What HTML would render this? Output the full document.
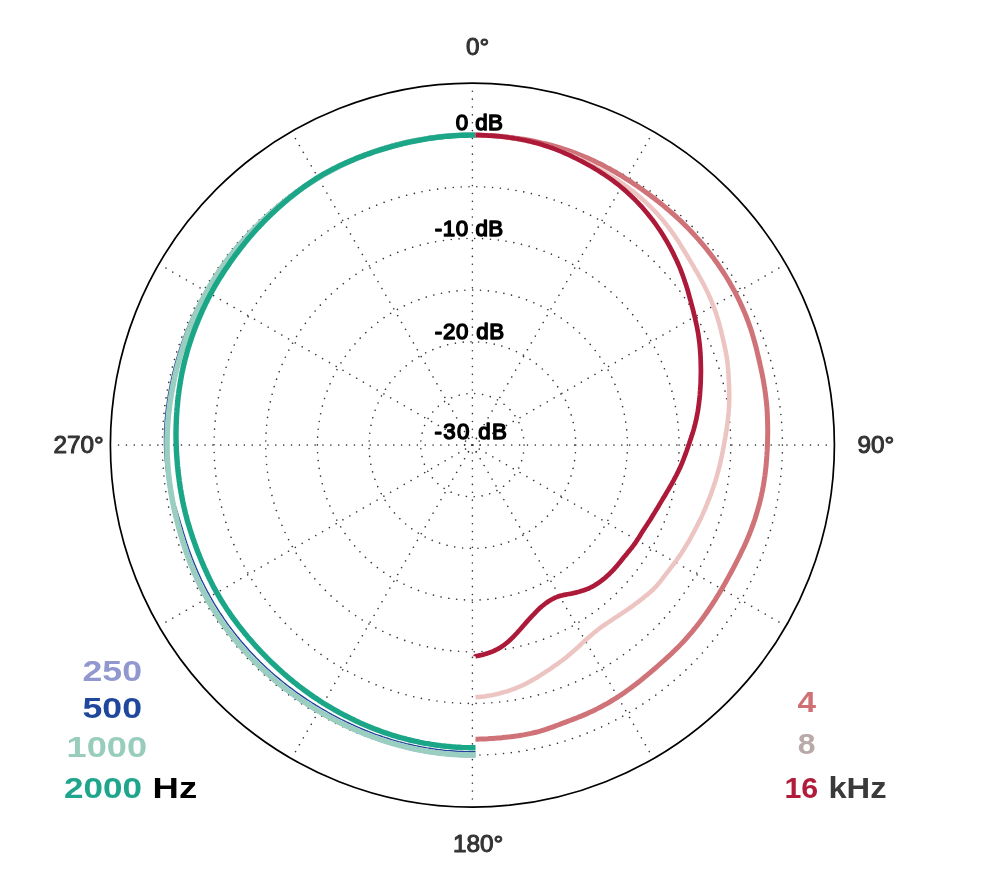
<!DOCTYPE html>
<html lang="en"><head><meta charset="utf-8"><title>Polar pattern</title>
<style>html,body{margin:0;padding:0;background:#fff}svg{display:block}text{font-family:"Liberation Sans",sans-serif}.g{fill:none;stroke:#363636;stroke-width:1.6;stroke-linecap:round;stroke-dasharray:0.01 7.853}.c{fill:none;stroke-linecap:butt;stroke-linejoin:round}.ang{font-size:23.4px;fill:#333;stroke:#333;stroke-width:1px;stroke-linejoin:round}.db{font-size:22.3px;fill:#000;stroke:#000;stroke-width:1.45px;stroke-linejoin:round}.lg{font-weight:bold;font-size:29.4px}</style></head><body>
<svg width="1000" height="889" viewBox="0 0 1000 889">
<rect width="1000" height="889" fill="#fff"/>
<g class="g">
<circle cx="472.4" cy="445.1" r="7.6" style="stroke-dasharray:0.01 7.96"/>
<circle cx="472.4" cy="445.1" r="51.67" style="stroke-dasharray:0.01 7.9083"/>
<circle cx="472.4" cy="445.1" r="103.34" style="stroke-dasharray:0.01 7.8129"/>
<circle cx="472.4" cy="445.1" r="155.01" style="stroke-dasharray:0.01 7.8445"/>
<circle cx="472.4" cy="445.1" r="206.68" style="stroke-dasharray:0.01 7.8604"/>
<circle cx="472.4" cy="445.1" r="258.35" style="stroke-dasharray:0.01 7.8699"/>
<circle cx="472.4" cy="445.1" r="310.02" style="stroke-dasharray:0.01 7.8445"/>
<line x1="472.4" y1="445.1" x2="472.40" y2="87.41"/>
<line x1="472.4" y1="445.1" x2="651.24" y2="135.33"/>
<line x1="472.4" y1="445.1" x2="782.17" y2="266.25"/>
<line x1="472.4" y1="445.1" x2="830.09" y2="445.10"/>
<line x1="472.4" y1="445.1" x2="782.17" y2="623.94"/>
<line x1="472.4" y1="445.1" x2="651.24" y2="754.87"/>
<line x1="472.4" y1="445.1" x2="472.40" y2="802.79"/>
<line x1="472.4" y1="445.1" x2="293.55" y2="754.87"/>
<line x1="472.4" y1="445.1" x2="162.63" y2="623.95"/>
<line x1="472.4" y1="445.1" x2="114.71" y2="445.10"/>
<line x1="472.4" y1="445.1" x2="162.63" y2="266.25"/>
<line x1="472.4" y1="445.1" x2="293.55" y2="135.33"/>
</g>
<circle cx="472.4" cy="445.1" r="362" fill="none" stroke="#000" stroke-width="1.7"/>
<g class="c">
<path d="M475.5,135.0 L469.7,135.0 L467.0,135.0 L464.3,135.1 L461.6,135.2 L458.9,135.3 L456.2,135.4 L453.5,135.6 L450.8,135.8 L448.1,136.0 L445.4,136.2 L442.7,136.5 L440.0,136.8 L437.3,137.1 L434.6,137.4 L431.9,137.8 L429.3,138.1 L426.6,138.5 L423.9,139.0 L421.2,139.4 L418.6,139.9 L415.9,140.4 L413.3,140.9 L410.6,141.5 L408.0,142.0 L405.3,142.6 L402.7,143.2 L400.1,143.9 L397.5,144.5 L394.8,145.2 L392.2,145.9 L389.6,146.7 L387.0,147.4 L384.5,148.2 L381.9,149.0 L379.3,149.9 L376.7,150.7 L374.2,151.6 L371.6,152.5 L369.1,153.4 L366.6,154.4 L364.1,155.3 L361.5,156.3 L359.0,157.3 L356.6,158.4 L354.1,159.4 L351.6,160.5 L349.1,161.6 L346.7,162.7 L344.2,163.9 L341.8,165.0 L339.4,166.2 L337.0,167.4 L334.6,168.7 L332.2,169.9 L329.8,171.2 L327.5,172.5 L325.1,173.8 L322.8,175.1 L320.4,176.5 L318.1,177.9 L315.8,179.3 L313.5,180.7 L311.2,182.1 L309.0,183.6 L306.7,185.1 L304.5,186.5 L302.3,188.1 L300.1,189.6 L297.9,191.1 L295.7,192.7 L293.5,194.3 L291.4,195.9 L289.2,197.5 L287.1,199.2 L285.0,200.8 L282.9,202.5 L280.8,204.2 L278.7,205.9 L276.7,207.7 L274.6,209.4 L272.6,211.2 L270.6,213.0 L268.6,214.7 L266.6,216.6 L264.7,218.4 L262.7,220.2 L260.8,222.1 L258.8,224.0 L256.9,225.8 L255.0,227.7 L253.2,229.6 L251.3,231.6 L249.4,233.5 L247.6,235.5 L245.8,237.4 L244.0,239.4 L242.2,241.4 L240.4,243.5 L238.7,245.5 L236.9,247.5 L235.2,249.6 L233.5,251.7 L231.9,253.8 L230.2,255.9 L228.6,258.0 L226.9,260.1 L225.3,262.3 L223.8,264.5 L222.2,266.6 L220.7,268.8 L219.2,271.1 L217.7,273.3 L216.2,275.5 L214.8,277.8 L213.3,280.1 L211.9,282.4 L210.6,284.7 L209.2,287.0 L207.9,289.3 L206.6,291.6 L205.3,294.0 L204.0,296.3 L202.8,298.7 L201.6,301.1 L200.4,303.5 L199.2,305.9 L198.0,308.3 L196.9,310.7 L195.8,313.2 L194.7,315.6 L193.6,318.1 L192.6,320.5 L191.6,323.0 L190.6,325.5 L189.6,328.0 L188.6,330.4 L187.7,332.9 L186.8,335.5 L185.9,338.0 L185.0,340.5 L184.1,343.0 L183.3,345.5 L182.5,348.1 L181.7,350.6 L180.9,353.2 L180.1,355.7 L179.4,358.3 L178.7,360.9 L178.0,363.4 L177.3,366.0 L176.6,368.6 L176.0,371.2 L175.4,373.8 L174.8,376.4 L174.2,379.0 L173.6,381.6 L173.1,384.2 L172.6,386.8 L172.1,389.4 L171.6,392.1 L171.1,394.7 L170.7,397.3 L170.3,399.9 L169.9,402.6 L169.5,405.2 L169.2,407.9 L168.9,410.5 L168.6,413.2 L168.3,415.8 L168.1,418.5 L167.8,421.1 L167.6,423.8 L167.5,426.4 L167.3,429.1 L167.2,431.8 L167.1,434.4 L167.0,437.1 L166.9,439.8 L166.9,442.4 L166.9,445.1 L166.9,447.8 L167.0,450.4 L167.0,453.1 L167.1,455.8 L167.3,458.4 L167.4,461.1 L167.6,463.7 L167.8,466.4 L168.0,469.1 L168.2,471.7 L168.5,474.4 L168.8,477.0 L169.1,479.7 L169.4,482.3 L169.8,484.9 L170.2,487.6 L170.6,490.2 L171.0,492.8 L171.5,495.5 L171.9,498.1 L172.4,500.7 L172.9,503.3 L173.5,505.9 L174.0,508.5 L174.6,511.1 L175.2,513.7 L175.8,516.3 L176.5,518.9 L177.1,521.5 L177.8,524.0 L178.5,526.6 L179.2,529.2 L179.9,531.7 L180.6,534.3 L181.4,536.9 L182.2,539.4 L182.9,542.0 L183.7,544.5 L184.6,547.0 L185.4,549.6 L186.3,552.1 L187.2,554.6 L188.1,557.1 L189.0,559.6 L189.9,562.1 L190.9,564.6 L191.9,567.1 L192.9,569.5 L193.9,572.0 L195.0,574.5 L196.1,576.9 L197.2,579.3 L198.3,581.8 L199.5,584.2 L200.6,586.6 L201.8,589.0 L203.1,591.3 L204.3,593.7 L205.6,596.1 L206.9,598.4 L208.2,600.7 L209.5,603.1 L210.9,605.4 L212.3,607.7 L213.7,609.9 L215.1,612.2 L216.5,614.5 L218.0,616.7 L219.5,618.9 L221.0,621.1 L222.5,623.3 L224.1,625.5 L225.7,627.7 L227.2,629.8 L228.9,632.0 L230.5,634.1 L232.1,636.2 L233.8,638.3 L235.5,640.4 L237.2,642.5 L238.9,644.5 L240.7,646.5 L242.4,648.6 L244.2,650.6 L246.0,652.6 L247.8,654.5 L249.6,656.5 L251.5,658.4 L253.4,660.3 L255.3,662.2 L257.2,664.1 L259.1,666.0 L261.0,667.9 L263.0,669.7 L264.9,671.5 L266.9,673.3 L268.9,675.1 L270.9,676.9 L273.0,678.6 L275.0,680.4 L277.1,682.1 L279.1,683.8 L281.2,685.4 L283.3,687.1 L285.4,688.7 L287.6,690.4 L289.7,692.0 L291.9,693.6 L294.1,695.1 L296.2,696.7 L298.4,698.2 L300.6,699.7 L302.9,701.2 L305.1,702.7 L307.3,704.2 L309.6,705.6 L311.9,707.1 L314.2,708.5 L316.4,709.9 L318.8,711.2 L321.1,712.6 L323.4,713.9 L325.7,715.2 L328.1,716.5 L330.4,717.8 L332.8,719.1 L335.2,720.3 L337.6,721.6 L340.0,722.8 L342.4,724.0 L344.8,725.1 L347.2,726.3 L349.6,727.4 L352.1,728.5 L354.5,729.6 L357.0,730.7 L359.5,731.7 L362.0,732.8 L364.5,733.8 L367.0,734.8 L369.5,735.7 L372.0,736.7 L374.5,737.6 L377.1,738.5 L379.6,739.4 L382.2,740.3 L384.7,741.1 L387.3,741.9 L389.9,742.7 L392.5,743.5 L395.0,744.2 L397.6,744.9 L400.2,745.6 L402.9,746.3 L405.5,747.0 L408.1,747.6 L410.7,748.2 L413.4,748.8 L416.0,749.4 L418.7,749.9 L421.3,750.4 L424.0,750.9 L426.6,751.3 L429.3,751.8 L432.0,752.2 L434.6,752.6 L437.3,752.9 L440.0,753.3 L442.7,753.6 L445.4,753.8 L448.1,754.1 L450.8,754.3 L453.5,754.5 L456.2,754.7 L458.9,754.9 L461.6,755.0 L464.3,755.1 L467.0,755.1 L469.7,755.2 L475.5,755.2" stroke="#9aa0d0" stroke-width="4.6"/>
<path d="M475.5,135.1 L469.7,135.1 L467.0,135.1 L464.3,135.2 L461.6,135.3 L458.9,135.4 L456.2,135.5 L453.5,135.7 L450.8,135.9 L448.1,136.1 L445.4,136.3 L442.7,136.6 L440.0,136.9 L437.3,137.2 L434.6,137.5 L432.0,137.9 L429.3,138.2 L426.6,138.6 L423.9,139.1 L421.3,139.5 L418.6,140.0 L415.9,140.5 L413.3,141.0 L410.6,141.5 L408.0,142.1 L405.4,142.7 L402.7,143.3 L400.1,144.0 L397.5,144.6 L394.9,145.3 L392.3,146.0 L389.7,146.7 L387.1,147.5 L384.5,148.3 L381.9,149.1 L379.3,149.9 L376.8,150.7 L374.2,151.6 L371.6,152.5 L369.1,153.4 L366.6,154.3 L364.0,155.3 L361.5,156.3 L359.0,157.3 L356.5,158.3 L354.0,159.3 L351.5,160.4 L349.1,161.5 L346.6,162.6 L344.2,163.7 L341.7,164.9 L339.3,166.0 L336.9,167.2 L334.5,168.4 L332.1,169.7 L329.7,170.9 L327.3,172.2 L324.9,173.5 L322.6,174.8 L320.2,176.1 L317.9,177.5 L315.6,178.9 L313.3,180.3 L311.0,181.7 L308.7,183.1 L306.4,184.6 L304.2,186.0 L301.9,187.5 L299.7,189.0 L297.5,190.6 L295.3,192.1 L293.1,193.7 L290.9,195.3 L288.7,196.9 L286.6,198.5 L284.4,200.1 L282.3,201.8 L280.2,203.5 L278.1,205.2 L276.0,206.9 L274.0,208.6 L271.9,210.4 L269.9,212.1 L267.9,213.9 L265.9,215.7 L263.9,217.6 L261.9,219.4 L260.0,221.2 L258.0,223.1 L256.1,225.0 L254.2,226.9 L252.3,228.8 L250.4,230.8 L248.6,232.7 L246.7,234.7 L244.9,236.7 L243.1,238.7 L241.3,240.7 L239.6,242.7 L237.8,244.8 L236.1,246.8 L234.4,248.9 L232.7,251.0 L231.0,253.1 L229.3,255.2 L227.7,257.3 L226.1,259.5 L224.5,261.6 L222.9,263.8 L221.3,266.0 L219.8,268.2 L218.3,270.4 L216.7,272.7 L215.3,274.9 L213.8,277.2 L212.3,279.4 L210.9,281.7 L209.5,284.0 L208.1,286.3 L206.8,288.6 L205.4,290.9 L204.1,293.3 L202.8,295.6 L201.5,298.0 L200.2,300.4 L199.0,302.8 L197.8,305.2 L196.6,307.6 L195.4,310.0 L194.2,312.4 L193.1,314.8 L192.0,317.3 L190.9,319.8 L189.8,322.2 L188.7,324.7 L187.7,327.2 L186.7,329.7 L185.7,332.2 L184.7,334.7 L183.8,337.2 L182.9,339.7 L182.0,342.2 L181.1,344.8 L180.2,347.3 L179.4,349.9 L178.6,352.5 L177.8,355.0 L177.0,357.6 L176.3,360.2 L175.5,362.8 L174.8,365.4 L174.1,368.0 L173.5,370.6 L172.8,373.2 L172.2,375.8 L171.6,378.4 L171.1,381.0 L170.5,383.7 L170.0,386.3 L169.5,389.0 L169.0,391.6 L168.5,394.2 L168.1,396.9 L167.7,399.6 L167.3,402.2 L166.9,404.9 L166.6,407.5 L166.2,410.2 L165.9,412.9 L165.7,415.6 L165.4,418.2 L165.2,420.9 L165.0,423.6 L164.9,426.3 L164.7,429.0 L164.6,431.7 L164.5,434.3 L164.5,437.0 L164.5,439.7 L164.5,442.4 L164.5,445.1 L164.6,447.8 L164.7,450.5 L164.8,453.2 L165.0,455.8 L165.2,458.5 L165.4,461.2 L165.7,463.9 L166.0,466.5 L166.3,469.2 L166.7,471.8 L167.1,474.5 L167.6,477.1 L168.1,479.8 L168.7,482.4 L169.3,485.0 L169.9,487.6 L170.6,490.2 L171.3,492.8 L172.1,495.4 L172.8,497.9 L173.6,500.5 L174.4,503.0 L175.2,505.6 L176.0,508.1 L176.8,510.6 L177.6,513.2 L178.3,515.7 L179.1,518.2 L179.9,520.8 L180.6,523.3 L181.4,525.8 L182.2,528.3 L182.9,530.8 L183.7,533.4 L184.5,535.9 L185.3,538.4 L186.1,540.9 L186.9,543.4 L187.8,545.9 L188.6,548.4 L189.5,550.9 L190.4,553.4 L191.3,555.8 L192.2,558.3 L193.2,560.7 L194.2,563.2 L195.2,565.6 L196.2,568.1 L197.3,570.5 L198.3,572.9 L199.4,575.3 L200.5,577.7 L201.6,580.1 L202.8,582.5 L204.0,584.8 L205.2,587.2 L206.4,589.5 L207.6,591.9 L208.9,594.2 L210.2,596.5 L211.5,598.8 L212.8,601.1 L214.1,603.4 L215.5,605.6 L216.9,607.9 L218.3,610.1 L219.7,612.3 L221.2,614.5 L222.7,616.7 L224.1,618.9 L225.7,621.1 L227.2,623.3 L228.7,625.4 L230.3,627.5 L231.9,629.6 L233.5,631.7 L235.1,633.8 L236.8,635.9 L238.5,638.0 L240.1,640.0 L241.8,642.0 L243.6,644.0 L245.3,646.0 L247.1,648.0 L248.8,650.0 L250.6,651.9 L252.4,653.8 L254.3,655.8 L256.1,657.7 L258.0,659.5 L259.8,661.4 L261.7,663.3 L263.6,665.1 L265.6,666.9 L267.5,668.7 L269.5,670.5 L271.4,672.3 L273.4,674.0 L275.4,675.7 L277.4,677.4 L279.5,679.1 L281.5,680.8 L283.6,682.5 L285.7,684.1 L287.7,685.7 L289.9,687.4 L292.0,688.9 L294.1,690.5 L296.2,692.1 L298.4,693.6 L300.6,695.1 L302.7,696.6 L304.9,698.1 L307.1,699.6 L309.4,701.0 L311.6,702.5 L313.8,703.9 L316.1,705.3 L318.3,706.7 L320.6,708.0 L322.9,709.4 L325.2,710.7 L327.5,712.0 L329.8,713.3 L332.1,714.6 L334.5,715.8 L336.8,717.1 L339.2,718.3 L341.5,719.5 L343.9,720.7 L346.3,721.9 L348.7,723.0 L351.1,724.1 L353.5,725.2 L355.9,726.3 L358.4,727.4 L360.8,728.4 L363.2,729.5 L365.7,730.5 L368.2,731.4 L370.7,732.4 L373.1,733.3 L375.6,734.3 L378.2,735.2 L380.7,736.0 L383.2,736.9 L385.7,737.7 L388.3,738.5 L390.8,739.3 L393.4,740.1 L395.9,740.8 L398.5,741.6 L401.1,742.3 L403.6,742.9 L406.2,743.6 L408.8,744.2 L411.4,744.8 L414.0,745.4 L416.6,745.9 L419.3,746.5 L421.9,747.0 L424.5,747.4 L427.1,747.9 L429.8,748.3 L432.4,748.7 L435.1,749.1 L437.7,749.5 L440.4,749.8 L443.0,750.1 L445.7,750.4 L448.4,750.6 L451.0,750.8 L453.7,751.0 L456.4,751.2 L459.0,751.4 L461.7,751.5 L464.4,751.6 L467.0,751.6 L469.7,751.7 L475.5,751.7" stroke="#23449a" stroke-width="1.4"/>
<path d="M475.5,135.1 L469.7,135.1 L467.0,135.1 L464.3,135.2 L461.6,135.3 L458.9,135.4 L456.2,135.5 L453.5,135.7 L450.8,135.9 L448.1,136.1 L445.4,136.3 L442.7,136.6 L440.0,136.9 L437.3,137.2 L434.6,137.5 L431.9,137.8 L429.3,138.2 L426.6,138.6 L423.9,139.1 L421.3,139.5 L418.6,140.0 L415.9,140.5 L413.3,141.0 L410.6,141.5 L408.0,142.1 L405.4,142.7 L402.7,143.3 L400.1,144.0 L397.5,144.6 L394.9,145.3 L392.3,146.0 L389.7,146.8 L387.1,147.5 L384.5,148.3 L381.9,149.1 L379.3,150.0 L376.8,150.8 L374.2,151.7 L371.7,152.6 L369.1,153.5 L366.6,154.5 L364.1,155.4 L361.6,156.4 L359.1,157.4 L356.6,158.5 L354.1,159.5 L351.6,160.6 L349.2,161.7 L346.7,162.8 L344.3,164.0 L341.8,165.1 L339.4,166.3 L337.0,167.5 L334.6,168.8 L332.2,170.0 L329.9,171.3 L327.5,172.6 L325.1,173.9 L322.8,175.2 L320.5,176.6 L318.2,178.0 L315.9,179.4 L313.6,180.8 L311.3,182.2 L309.0,183.7 L306.8,185.1 L304.5,186.6 L302.3,188.1 L300.1,189.7 L297.9,191.2 L295.7,192.8 L293.6,194.4 L291.4,196.0 L289.3,197.6 L287.2,199.3 L285.0,200.9 L282.9,202.6 L280.9,204.3 L278.8,206.0 L276.7,207.7 L274.7,209.5 L272.7,211.3 L270.7,213.0 L268.7,214.8 L266.7,216.6 L264.7,218.5 L262.8,220.3 L260.8,222.2 L258.9,224.0 L257.0,225.9 L255.1,227.8 L253.2,229.7 L251.4,231.6 L249.5,233.6 L247.7,235.5 L245.9,237.5 L244.1,239.5 L242.3,241.5 L240.5,243.5 L238.8,245.5 L237.0,247.6 L235.3,249.7 L233.6,251.7 L231.9,253.8 L230.3,255.9 L228.6,258.1 L227.0,260.2 L225.4,262.3 L223.8,264.5 L222.3,266.7 L220.8,268.9 L219.2,271.1 L217.8,273.3 L216.3,275.6 L214.9,277.8 L213.4,280.1 L212.0,282.4 L210.7,284.7 L209.3,287.0 L208.0,289.3 L206.7,291.7 L205.4,294.0 L204.1,296.4 L202.9,298.8 L201.7,301.1 L200.5,303.5 L199.3,305.9 L198.1,308.4 L197.0,310.8 L195.9,313.2 L194.8,315.7 L193.7,318.1 L192.7,320.6 L191.7,323.0 L190.7,325.5 L189.7,328.0 L188.7,330.5 L187.8,333.0 L186.9,335.5 L186.0,338.0 L185.1,340.5 L184.2,343.0 L183.4,345.6 L182.6,348.1 L181.8,350.7 L181.0,353.2 L180.2,355.8 L179.5,358.3 L178.8,360.9 L178.1,363.5 L177.4,366.0 L176.7,368.6 L176.1,371.2 L175.5,373.8 L174.8,376.4 L174.3,379.0 L173.7,381.6 L173.2,384.2 L172.7,386.8 L172.2,389.5 L171.7,392.1 L171.2,394.7 L170.8,397.3 L170.4,400.0 L170.0,402.6 L169.6,405.2 L169.3,407.9 L169.0,410.5 L168.7,413.2 L168.4,415.8 L168.2,418.5 L167.9,421.1 L167.7,423.8 L167.6,426.5 L167.4,429.1 L167.3,431.8 L167.2,434.4 L167.1,437.1 L167.0,439.8 L167.0,442.4 L167.0,445.1 L167.0,447.8 L167.1,450.4 L167.1,453.1 L167.2,455.8 L167.4,458.4 L167.5,461.1 L167.7,463.7 L167.9,466.4 L168.1,469.0 L168.3,471.7 L168.6,474.4 L168.9,477.0 L169.2,479.6 L169.5,482.3 L169.9,484.9 L170.3,487.6 L170.7,490.2 L171.1,492.8 L171.6,495.4 L172.0,498.1 L172.5,500.7 L173.0,503.3 L173.6,505.9 L174.1,508.5 L174.7,511.1 L175.3,513.7 L175.9,516.3 L176.6,518.9 L177.2,521.4 L177.9,524.0 L178.6,526.6 L179.3,529.2 L180.0,531.7 L180.7,534.3 L181.5,536.8 L182.3,539.4 L183.0,541.9 L183.8,544.5 L184.7,547.0 L185.5,549.5 L186.4,552.0 L187.2,554.6 L188.1,557.1 L189.1,559.6 L190.0,562.1 L191.0,564.6 L192.0,567.0 L193.0,569.5 L194.0,572.0 L195.1,574.4 L196.2,576.9 L197.3,579.3 L198.4,581.7 L199.5,584.1 L200.7,586.5 L201.9,588.9 L203.1,591.3 L204.4,593.7 L205.7,596.0 L207.0,598.4 L208.3,600.7 L209.6,603.0 L211.0,605.3 L212.3,607.6 L213.8,609.9 L215.2,612.1 L216.6,614.4 L218.1,616.6 L219.6,618.9 L221.1,621.1 L222.6,623.3 L224.2,625.5 L225.7,627.6 L227.3,629.8 L228.9,631.9 L230.6,634.0 L232.2,636.2 L233.9,638.3 L235.6,640.3 L237.3,642.4 L239.0,644.4 L240.7,646.5 L242.5,648.5 L244.3,650.5 L246.1,652.5 L247.9,654.5 L249.7,656.4 L251.6,658.4 L253.4,660.3 L255.3,662.2 L257.2,664.1 L259.1,665.9 L261.1,667.8 L263.0,669.6 L265.0,671.4 L267.0,673.2 L269.0,675.0 L271.0,676.8 L273.0,678.5 L275.1,680.3 L277.1,682.0 L279.2,683.7 L281.3,685.4 L283.4,687.0 L285.5,688.7 L287.6,690.3 L289.8,691.9 L291.9,693.5 L294.1,695.1 L296.3,696.6 L298.5,698.1 L300.7,699.7 L302.9,701.2 L305.2,702.6 L307.4,704.1 L309.7,705.5 L311.9,707.0 L314.2,708.4 L316.5,709.8 L318.8,711.1 L321.1,712.5 L323.4,713.8 L325.8,715.2 L328.1,716.5 L330.5,717.7 L332.8,719.0 L335.2,720.3 L337.6,721.5 L340.0,722.7 L342.4,723.9 L344.8,725.1 L347.2,726.2 L349.7,727.3 L352.1,728.4 L354.6,729.5 L357.0,730.6 L359.5,731.7 L362.0,732.7 L364.5,733.7 L367.0,734.7 L369.5,735.7 L372.0,736.6 L374.6,737.5 L377.1,738.4 L379.6,739.3 L382.2,740.2 L384.8,741.0 L387.3,741.8 L389.9,742.6 L392.5,743.4 L395.1,744.1 L397.7,744.8 L400.3,745.5 L402.9,746.2 L405.5,746.9 L408.1,747.5 L410.8,748.1 L413.4,748.7 L416.0,749.3 L418.7,749.8 L421.3,750.3 L424.0,750.8 L426.6,751.2 L429.3,751.7 L432.0,752.1 L434.7,752.5 L437.3,752.8 L440.0,753.2 L442.7,753.5 L445.4,753.7 L448.1,754.0 L450.8,754.2 L453.5,754.4 L456.2,754.6 L458.9,754.8 L461.6,754.9 L464.3,755.0 L467.0,755.0 L469.7,755.1 L475.5,755.1" stroke="#99cec0" stroke-width="5.5"/>
<path d="M475.5,135.1 L469.7,135.1 L467.0,135.2 L464.3,135.2 L461.6,135.3 L458.9,135.4 L456.2,135.6 L453.5,135.8 L450.8,136.0 L448.1,136.2 L445.4,136.4 L442.7,136.7 L440.0,137.0 L437.3,137.3 L434.7,137.7 L432.0,138.0 L429.3,138.4 L426.6,138.9 L424.0,139.3 L421.3,139.8 L418.6,140.3 L416.0,140.8 L413.3,141.3 L410.7,141.9 L408.1,142.4 L405.4,143.0 L402.8,143.7 L400.2,144.3 L397.6,145.0 L395.0,145.6 L392.3,146.3 L389.7,147.1 L387.2,147.8 L384.6,148.6 L382.0,149.3 L379.4,150.1 L376.8,151.0 L374.3,151.8 L371.7,152.7 L369.2,153.6 L366.6,154.5 L364.1,155.4 L361.6,156.4 L359.0,157.3 L356.5,158.3 L354.0,159.4 L351.5,160.4 L349.1,161.5 L346.6,162.5 L344.1,163.6 L341.7,164.8 L339.2,165.9 L336.8,167.1 L334.4,168.3 L332.0,169.5 L329.6,170.8 L327.2,172.1 L324.9,173.4 L322.5,174.7 L320.2,176.1 L317.9,177.5 L315.6,178.9 L313.3,180.4 L311.1,181.9 L308.9,183.4 L306.7,184.9 L304.5,186.5 L302.3,188.1 L300.1,189.7 L298.0,191.3 L295.9,193.0 L293.8,194.6 L291.7,196.3 L289.6,198.0 L287.5,199.7 L285.5,201.5 L283.4,203.2 L281.4,205.0 L279.4,206.8 L277.4,208.6 L275.4,210.4 L273.5,212.2 L271.5,214.0 L269.6,215.9 L267.7,217.7 L265.8,219.6 L263.9,221.5 L262.1,223.5 L260.2,225.4 L258.4,227.3 L256.6,229.3 L254.8,231.3 L253.0,233.3 L251.3,235.3 L249.5,237.3 L247.8,239.3 L246.1,241.4 L244.5,243.4 L242.8,245.5 L241.1,247.6 L239.5,249.7 L237.9,251.8 L236.3,253.9 L234.7,256.0 L233.2,258.2 L231.6,260.3 L230.1,262.5 L228.6,264.7 L227.1,266.9 L225.6,269.1 L224.1,271.3 L222.7,273.5 L221.3,275.7 L219.9,277.9 L218.5,280.2 L217.1,282.5 L215.8,284.7 L214.4,287.0 L213.1,289.3 L211.9,291.6 L210.6,293.9 L209.4,296.3 L208.2,298.6 L207.0,301.0 L205.8,303.3 L204.7,305.7 L203.5,308.1 L202.4,310.5 L201.4,312.9 L200.3,315.3 L199.3,317.7 L198.2,320.2 L197.3,322.6 L196.3,325.0 L195.3,327.5 L194.4,329.9 L193.5,332.4 L192.6,334.9 L191.7,337.4 L190.9,339.8 L190.1,342.3 L189.3,344.8 L188.5,347.3 L187.7,349.8 L187.0,352.4 L186.3,354.9 L185.6,357.4 L184.9,360.0 L184.3,362.5 L183.7,365.0 L183.1,367.6 L182.6,370.1 L182.0,372.7 L181.5,375.3 L181.1,377.8 L180.6,380.4 L180.2,383.0 L179.8,385.6 L179.4,388.1 L179.0,390.7 L178.7,393.3 L178.3,395.9 L178.0,398.5 L177.8,401.1 L177.5,403.7 L177.3,406.2 L177.0,408.8 L176.9,411.4 L176.7,414.0 L176.5,416.6 L176.4,419.2 L176.3,421.8 L176.2,424.4 L176.1,427.0 L176.1,429.6 L176.0,432.2 L176.0,434.8 L176.0,437.3 L176.1,439.9 L176.1,442.5 L176.2,445.1 L176.3,447.7 L176.4,450.3 L176.5,452.8 L176.7,455.4 L176.9,458.0 L177.1,460.6 L177.3,463.1 L177.5,465.7 L177.8,468.3 L178.0,470.9 L178.3,473.4 L178.6,476.0 L179.0,478.5 L179.3,481.1 L179.7,483.6 L180.0,486.2 L180.4,488.7 L180.9,491.3 L181.3,493.8 L181.8,496.3 L182.2,498.9 L182.7,501.4 L183.3,503.9 L183.8,506.4 L184.4,508.9 L185.0,511.5 L185.6,513.9 L186.3,516.4 L186.9,518.9 L187.6,521.4 L188.3,523.9 L189.1,526.3 L189.8,528.8 L190.6,531.3 L191.4,533.7 L192.2,536.1 L193.0,538.6 L193.9,541.0 L194.7,543.4 L195.6,545.8 L196.5,548.3 L197.4,550.7 L198.3,553.1 L199.3,555.4 L200.2,557.8 L201.2,560.2 L202.2,562.6 L203.2,564.9 L204.2,567.3 L205.3,569.7 L206.4,572.0 L207.4,574.3 L208.5,576.7 L209.6,579.0 L210.8,581.3 L211.9,583.6 L213.1,585.9 L214.3,588.2 L215.6,590.4 L216.8,592.7 L218.1,594.9 L219.4,597.1 L220.7,599.4 L222.0,601.6 L223.4,603.7 L224.8,605.9 L226.2,608.1 L227.6,610.2 L229.1,612.3 L230.5,614.5 L232.0,616.6 L233.5,618.7 L235.0,620.7 L236.6,622.8 L238.1,624.9 L239.7,626.9 L241.3,628.9 L242.9,630.9 L244.5,632.9 L246.2,634.9 L247.8,636.9 L249.5,638.9 L251.2,640.8 L252.9,642.8 L254.6,644.7 L256.3,646.6 L258.1,648.5 L259.8,650.4 L261.6,652.3 L263.4,654.1 L265.2,656.0 L267.0,657.8 L268.8,659.6 L270.6,661.5 L272.5,663.2 L274.4,665.0 L276.3,666.8 L278.2,668.6 L280.1,670.3 L282.0,672.0 L283.9,673.7 L285.9,675.4 L287.8,677.1 L289.8,678.8 L291.8,680.4 L293.8,682.1 L295.9,683.7 L297.9,685.3 L299.9,686.9 L302.0,688.4 L304.1,690.0 L306.2,691.5 L308.3,693.0 L310.4,694.5 L312.5,696.0 L314.7,697.5 L316.9,698.9 L319.0,700.4 L321.2,701.8 L323.4,703.2 L325.6,704.5 L327.8,705.9 L330.1,707.2 L332.3,708.5 L334.6,709.8 L336.9,711.1 L339.1,712.4 L341.4,713.6 L343.7,714.8 L346.1,716.0 L348.4,717.2 L350.7,718.4 L353.1,719.5 L355.4,720.7 L357.8,721.8 L360.2,722.9 L362.6,723.9 L365.0,725.0 L367.4,726.0 L369.8,727.0 L372.2,728.0 L374.7,729.0 L377.1,729.9 L379.6,730.8 L382.0,731.7 L384.5,732.6 L387.0,733.4 L389.5,734.3 L392.0,735.1 L394.5,735.8 L397.0,736.6 L399.5,737.3 L402.1,738.0 L404.6,738.7 L407.2,739.4 L409.7,740.0 L412.3,740.6 L414.8,741.2 L417.4,741.7 L420.0,742.3 L422.6,742.8 L425.2,743.3 L427.8,743.7 L430.4,744.2 L433.0,744.6 L435.6,745.0 L438.2,745.3 L440.8,745.7 L443.4,746.0 L446.1,746.3 L448.7,746.5 L451.3,746.8 L453.9,747.0 L456.6,747.2 L459.2,747.3 L461.8,747.5 L464.5,747.6 L467.1,747.6 L469.8,747.7 L475.5,747.7" stroke="#1ca688" stroke-width="5.4"/>
<path d="M475.5,135.1 L475.5,135.1 L477.8,135.1 L480.5,135.2 L483.2,135.3 L485.9,135.4 L488.6,135.5 L491.3,135.7 L494.0,135.8 L496.7,136.0 L499.4,136.3 L502.1,136.5 L504.8,136.8 L507.5,137.1 L510.2,137.4 L512.9,137.7 L515.5,138.1 L518.2,138.5 L520.9,138.9 L523.6,139.3 L526.2,139.8 L528.9,140.3 L531.6,140.8 L534.2,141.3 L536.9,141.9 L539.5,142.5 L542.1,143.1 L544.8,143.7 L547.4,144.3 L550.0,145.0 L552.6,145.7 L555.2,146.4 L557.8,147.2 L560.4,148.0 L563.0,148.8 L565.6,149.6 L568.1,150.5 L570.7,151.3 L573.2,152.3 L575.8,153.2 L578.3,154.2 L580.8,155.2 L583.3,156.2 L585.8,157.2 L588.3,158.3 L590.7,159.4 L593.2,160.6 L595.6,161.7 L598.0,162.9 L600.5,164.1 L602.9,165.3 L605.2,166.6 L607.6,167.9 L610.0,169.1 L612.3,170.5 L614.7,171.8 L617.0,173.2 L619.3,174.5 L621.6,175.9 L623.9,177.3 L626.2,178.8 L628.4,180.2 L630.7,181.7 L632.9,183.2 L635.1,184.7 L637.4,186.2 L639.6,187.7 L641.8,189.2 L643.9,190.8 L646.1,192.4 L648.3,193.9 L650.4,195.5 L652.5,197.2 L654.7,198.8 L656.8,200.4 L658.9,202.1 L661.0,203.8 L663.0,205.4 L665.1,207.1 L667.1,208.9 L669.2,210.6 L671.2,212.3 L673.2,214.1 L675.2,215.9 L677.2,217.7 L679.1,219.5 L681.1,221.3 L683.0,223.2 L684.9,225.1 L686.8,226.9 L688.7,228.8 L690.5,230.8 L692.3,232.7 L694.2,234.7 L695.9,236.6 L697.7,238.6 L699.5,240.6 L701.2,242.7 L702.9,244.7 L704.6,246.7 L706.3,248.8 L708.0,250.9 L709.6,253.0 L711.2,255.1 L712.9,257.2 L714.4,259.4 L716.0,261.5 L717.5,263.7 L719.0,265.9 L720.5,268.1 L722.0,270.3 L723.5,272.5 L724.9,274.8 L726.3,277.0 L727.7,279.3 L729.1,281.6 L730.4,283.9 L731.7,286.2 L733.0,288.5 L734.3,290.9 L735.5,293.2 L736.7,295.6 L737.9,297.9 L739.1,300.3 L740.2,302.7 L741.3,305.1 L742.4,307.5 L743.5,310.0 L744.5,312.4 L745.5,314.8 L746.5,317.3 L747.4,319.8 L748.4,322.2 L749.2,324.7 L750.1,327.2 L751.0,329.7 L751.8,332.2 L752.5,334.7 L753.3,337.3 L754.0,339.8 L754.7,342.3 L755.4,344.9 L756.1,347.4 L756.7,350.0 L757.3,352.5 L757.9,355.1 L758.5,357.6 L759.1,360.2 L759.7,362.7 L760.2,365.3 L760.8,367.8 L761.3,370.4 L761.9,372.9 L762.4,375.5 L762.9,378.0 L763.4,380.6 L763.8,383.2 L764.2,385.7 L764.7,388.3 L765.0,390.9 L765.4,393.4 L765.7,396.0 L766.0,398.6 L766.3,401.2 L766.6,403.8 L766.8,406.3 L767.0,408.9 L767.2,411.5 L767.3,414.1 L767.4,416.7 L767.5,419.3 L767.6,421.9 L767.6,424.5 L767.7,427.0 L767.7,429.6 L767.7,432.2 L767.7,434.8 L767.6,437.4 L767.6,439.9 L767.5,442.5 L767.4,445.1 L767.3,447.7 L767.2,450.2 L767.0,452.8 L766.9,455.4 L766.7,457.9 L766.5,460.5 L766.3,463.1 L766.1,465.6 L765.8,468.2 L765.5,470.7 L765.2,473.3 L764.9,475.8 L764.5,478.4 L764.1,480.9 L763.7,483.5 L763.3,486.0 L762.8,488.5 L762.4,491.0 L761.8,493.5 L761.3,496.0 L760.7,498.5 L760.1,501.0 L759.5,503.5 L758.8,506.0 L758.1,508.4 L757.4,510.9 L756.7,513.4 L755.9,515.8 L755.2,518.2 L754.4,520.6 L753.5,523.1 L752.7,525.5 L751.8,527.9 L750.9,530.3 L750.0,532.6 L749.1,535.0 L748.1,537.3 L747.1,539.7 L746.1,542.0 L745.1,544.3 L744.0,546.7 L742.9,549.0 L741.8,551.2 L740.7,553.5 L739.6,555.8 L738.5,558.0 L737.3,560.3 L736.2,562.5 L735.0,564.8 L733.9,567.0 L732.7,569.3 L731.5,571.5 L730.3,573.7 L729.1,575.9 L727.9,578.1 L726.7,580.3 L725.5,582.5 L724.2,584.7 L723.0,586.9 L721.7,589.0 L720.4,591.2 L719.1,593.4 L717.8,595.5 L716.5,597.6 L715.2,599.8 L713.8,601.9 L712.5,604.0 L711.1,606.1 L709.7,608.2 L708.3,610.3 L706.9,612.3 L705.4,614.4 L704.0,616.4 L702.5,618.5 L701.0,620.5 L699.5,622.5 L697.9,624.5 L696.4,626.5 L694.8,628.4 L693.2,630.4 L691.6,632.3 L690.0,634.2 L688.3,636.1 L686.7,638.0 L685.0,639.9 L683.3,641.7 L681.5,643.6 L679.8,645.4 L678.0,647.2 L676.2,648.9 L674.4,650.7 L672.6,652.4 L670.8,654.2 L669.0,655.9 L667.1,657.6 L665.3,659.3 L663.4,661.0 L661.5,662.7 L659.6,664.3 L657.7,666.0 L655.9,667.6 L654.0,669.3 L652.0,670.9 L650.1,672.6 L648.2,674.2 L646.3,675.8 L644.3,677.4 L642.4,679.0 L640.4,680.6 L638.4,682.2 L636.4,683.8 L634.4,685.3 L632.4,686.8 L630.4,688.3 L628.3,689.8 L626.2,691.3 L624.2,692.7 L622.1,694.2 L619.9,695.6 L617.8,697.0 L615.7,698.3 L613.5,699.7 L611.3,701.0 L609.2,702.3 L607.0,703.6 L604.7,704.8 L602.5,706.0 L600.3,707.2 L598.0,708.4 L595.7,709.6 L593.4,710.7 L591.1,711.8 L588.8,712.8 L586.5,713.9 L584.1,714.9 L581.8,715.9 L579.4,716.8 L577.1,717.8 L574.7,718.7 L572.3,719.6 L569.9,720.5 L567.5,721.4 L565.2,722.3 L562.8,723.2 L560.4,724.1 L558.0,725.0 L555.6,725.9 L553.2,726.8 L550.8,727.7 L548.3,728.5 L545.9,729.3 L543.5,730.1 L541.0,730.9 L538.5,731.6 L536.1,732.2 L533.6,732.8 L531.1,733.4 L528.5,733.9 L526.0,734.4 L523.5,734.9 L521.0,735.3 L518.4,735.7 L515.9,736.1 L513.3,736.4 L510.8,736.7 L508.2,737.1 L505.7,737.3 L503.1,737.6 L500.6,737.9 L498.0,738.1 L495.5,738.3 L492.9,738.5 L490.4,738.6 L487.8,738.8 L485.2,738.9 L482.7,739.0 L480.1,739.1 L477.5,739.2 L475.5,739.2 L475.5,739.2" stroke="#cf7379" stroke-width="5.0"/>
<path d="M475.5,135.1 L475.5,135.1 L477.8,135.2 L480.5,135.2 L483.2,135.3 L485.9,135.4 L488.6,135.6 L491.3,135.8 L494.0,136.0 L496.7,136.2 L499.4,136.5 L502.1,136.8 L504.8,137.1 L507.4,137.5 L510.1,137.9 L512.8,138.3 L515.5,138.7 L518.1,139.2 L520.8,139.7 L523.4,140.2 L526.1,140.8 L528.7,141.4 L531.3,142.0 L533.9,142.7 L536.5,143.3 L539.1,144.0 L541.7,144.8 L544.3,145.5 L546.9,146.3 L549.5,147.1 L552.0,148.0 L554.6,148.9 L557.1,149.8 L559.6,150.7 L562.1,151.6 L564.6,152.6 L567.1,153.6 L569.6,154.6 L572.1,155.7 L574.5,156.7 L577.0,157.8 L579.4,158.9 L581.8,160.1 L584.2,161.2 L586.6,162.4 L589.0,163.6 L591.4,164.8 L593.7,166.1 L596.1,167.3 L598.4,168.6 L600.7,169.9 L603.0,171.2 L605.3,172.6 L607.6,173.9 L609.9,175.3 L612.1,176.7 L614.4,178.1 L616.6,179.6 L618.8,181.0 L621.0,182.5 L623.1,184.0 L625.3,185.5 L627.4,187.1 L629.5,188.7 L631.6,190.3 L633.7,191.9 L635.7,193.6 L637.8,195.3 L639.8,197.0 L641.8,198.7 L643.7,200.4 L645.6,202.2 L647.6,204.0 L649.4,205.8 L651.3,207.7 L653.1,209.5 L655.0,211.4 L656.8,213.3 L658.5,215.3 L660.2,217.2 L662.0,219.2 L663.6,221.2 L665.3,223.2 L666.9,225.3 L668.5,227.3 L670.1,229.4 L671.6,231.5 L673.1,233.6 L674.6,235.7 L676.0,237.9 L677.5,240.0 L678.9,242.2 L680.2,244.4 L681.6,246.6 L682.9,248.8 L684.3,251.0 L685.6,253.2 L686.9,255.3 L688.2,257.5 L689.5,259.7 L690.8,261.9 L692.1,264.0 L693.4,266.2 L694.6,268.3 L695.9,270.5 L697.2,272.6 L698.4,274.8 L699.6,277.0 L700.8,279.1 L702.0,281.3 L703.2,283.5 L704.3,285.7 L705.4,287.9 L706.5,290.1 L707.6,292.4 L708.6,294.6 L709.6,296.9 L710.6,299.1 L711.6,301.4 L712.5,303.7 L713.4,306.0 L714.2,308.3 L715.1,310.6 L715.9,312.9 L716.6,315.2 L717.4,317.6 L718.1,319.9 L718.8,322.3 L719.4,324.6 L720.0,327.0 L720.7,329.3 L721.3,331.7 L721.8,334.0 L722.4,336.4 L722.9,338.8 L723.5,341.1 L724.0,343.4 L724.5,345.8 L725.0,348.1 L725.5,350.5 L725.9,352.8 L726.4,355.2 L726.8,357.5 L727.1,359.9 L727.4,362.2 L727.7,364.6 L727.9,367.0 L728.2,369.3 L728.3,371.7 L728.5,374.1 L728.6,376.4 L728.7,378.8 L728.8,381.2 L728.9,383.5 L729.0,385.9 L729.1,388.2 L729.2,390.5 L729.2,392.9 L729.2,395.2 L729.2,397.5 L729.2,399.8 L729.2,402.1 L729.1,404.4 L729.0,406.8 L728.8,409.1 L728.7,411.4 L728.5,413.7 L728.3,415.9 L728.0,418.2 L727.8,420.5 L727.5,422.8 L727.2,425.0 L726.9,427.3 L726.5,429.6 L726.2,431.8 L725.8,434.0 L725.5,436.3 L725.1,438.5 L724.7,440.7 L724.3,442.9 L723.9,445.1 L723.5,447.3 L723.1,449.5 L722.7,451.7 L722.2,453.8 L721.8,456.0 L721.3,458.1 L720.9,460.3 L720.4,462.4 L719.9,464.6 L719.4,466.7 L718.8,468.8 L718.3,470.9 L717.7,473.0 L717.1,475.1 L716.5,477.2 L715.9,479.3 L715.3,481.4 L714.6,483.5 L713.9,485.5 L713.2,487.6 L712.5,489.6 L711.8,491.6 L711.1,493.7 L710.4,495.7 L709.6,497.7 L708.8,499.7 L708.0,501.7 L707.2,503.7 L706.4,505.6 L705.6,507.6 L704.8,509.5 L703.9,511.5 L703.0,513.4 L702.2,515.3 L701.3,517.3 L700.4,519.2 L699.4,521.1 L698.5,523.0 L697.6,524.8 L696.6,526.7 L695.7,528.6 L694.7,530.4 L693.7,532.3 L692.7,534.1 L691.7,535.9 L690.7,537.8 L689.7,539.6 L688.7,541.4 L687.6,543.2 L686.5,545.0 L685.5,546.7 L684.4,548.5 L683.3,550.2 L682.2,552.0 L681.0,553.7 L679.9,555.4 L678.7,557.1 L677.5,558.8 L676.3,560.5 L675.1,562.1 L673.9,563.8 L672.6,565.4 L671.4,567.0 L670.1,568.7 L668.9,570.3 L667.6,571.9 L666.4,573.5 L665.2,575.1 L663.9,576.7 L662.7,578.4 L661.5,580.0 L660.2,581.6 L658.9,583.1 L657.6,584.7 L656.3,586.2 L654.9,587.7 L653.5,589.1 L652.0,590.5 L650.5,591.9 L648.9,593.2 L647.4,594.6 L645.8,595.8 L644.2,597.1 L642.6,598.4 L641.1,599.6 L639.5,600.9 L637.8,602.1 L636.2,603.3 L634.6,604.5 L633.0,605.7 L631.4,606.9 L629.7,608.0 L628.1,609.2 L626.4,610.3 L624.8,611.4 L623.1,612.5 L621.5,613.6 L619.8,614.7 L618.2,615.8 L616.5,616.9 L614.9,617.9 L613.2,619.0 L611.6,620.1 L610.0,621.2 L608.3,622.3 L606.7,623.3 L605.1,624.4 L603.5,625.6 L601.9,626.7 L600.3,627.8 L598.8,629.0 L597.2,630.2 L595.7,631.4 L594.2,632.6 L592.7,633.9 L591.2,635.2 L589.7,636.5 L588.2,637.8 L586.7,639.1 L585.2,640.5 L583.7,641.8 L582.2,643.2 L580.7,644.6 L579.2,646.0 L577.7,647.4 L576.2,648.7 L574.6,650.1 L573.1,651.5 L571.5,652.9 L569.9,654.3 L568.3,655.6 L566.7,656.9 L565.1,658.2 L563.4,659.5 L561.7,660.8 L560.0,662.0 L558.3,663.3 L556.6,664.5 L554.9,665.7 L553.1,666.9 L551.4,668.1 L549.6,669.3 L547.8,670.5 L546.0,671.7 L544.2,672.9 L542.4,674.0 L540.6,675.2 L538.7,676.4 L536.9,677.5 L535.0,678.6 L533.1,679.7 L531.2,680.8 L529.2,681.9 L527.3,682.9 L525.3,683.9 L523.4,684.9 L521.4,685.8 L519.4,686.7 L517.3,687.5 L515.3,688.4 L513.2,689.2 L511.2,689.9 L509.1,690.6 L507.0,691.3 L504.9,691.9 L502.8,692.5 L500.7,693.1 L498.5,693.7 L496.4,694.2 L494.2,694.6 L492.1,695.1 L489.9,695.5 L487.7,695.8 L485.6,696.2 L483.4,696.5 L481.2,696.7 L479.0,696.9 L476.8,697.1 L475.5,697.2 L475.5,697.2" stroke="#ecc4c2" stroke-width="4.5"/>
<path d="M475.5,135.1 L475.5,135.1 L477.8,135.1 L480.5,135.2 L483.2,135.3 L485.9,135.4 L488.6,135.6 L491.3,135.7 L494.0,135.9 L496.7,136.1 L499.4,136.4 L502.1,136.7 L504.8,137.0 L507.5,137.3 L510.1,137.7 L512.8,138.1 L515.5,138.5 L518.2,139.0 L520.8,139.5 L523.5,140.0 L526.1,140.5 L528.7,141.1 L531.4,141.8 L534.0,142.4 L536.6,143.1 L539.2,143.8 L541.8,144.6 L544.4,145.4 L546.9,146.2 L549.5,147.1 L552.0,148.0 L554.5,148.9 L557.0,149.9 L559.5,150.9 L562.0,151.9 L564.5,153.0 L566.9,154.1 L569.4,155.2 L571.8,156.4 L574.2,157.6 L576.6,158.7 L579.0,160.0 L581.4,161.2 L583.7,162.4 L586.1,163.7 L588.4,165.0 L590.8,166.3 L593.1,167.6 L595.3,169.0 L597.6,170.3 L599.9,171.7 L602.1,173.2 L604.3,174.6 L606.5,176.1 L608.7,177.6 L610.9,179.1 L613.0,180.7 L615.1,182.3 L617.2,183.9 L619.3,185.5 L621.3,187.2 L623.3,188.9 L625.3,190.6 L627.3,192.4 L629.2,194.2 L631.1,195.9 L633.0,197.8 L634.9,199.6 L636.7,201.5 L638.5,203.4 L640.3,205.3 L642.1,207.2 L643.8,209.2 L645.5,211.2 L647.2,213.2 L648.8,215.2 L650.4,217.2 L652.0,219.3 L653.6,221.3 L655.1,223.4 L656.6,225.5 L658.1,227.7 L659.6,229.8 L661.0,232.0 L662.4,234.1 L663.7,236.3 L665.0,238.5 L666.4,240.7 L667.6,242.9 L668.9,245.2 L670.1,247.4 L671.3,249.6 L672.5,251.9 L673.6,254.1 L674.7,256.4 L675.8,258.7 L676.9,261.0 L677.9,263.3 L678.9,265.6 L679.9,267.9 L680.8,270.2 L681.7,272.6 L682.6,274.9 L683.4,277.2 L684.2,279.6 L685.0,281.9 L685.8,284.3 L686.5,286.6 L687.3,289.0 L688.0,291.3 L688.6,293.7 L689.3,296.0 L689.9,298.4 L690.6,300.7 L691.2,303.0 L691.8,305.3 L692.4,307.6 L693.0,309.9 L693.6,312.2 L694.1,314.5 L694.7,316.8 L695.2,319.0 L695.7,321.3 L696.2,323.6 L696.7,325.8 L697.2,328.1 L697.6,330.4 L698.0,332.6 L698.4,334.9 L698.7,337.2 L699.0,339.4 L699.3,341.7 L699.6,344.0 L699.8,346.2 L700.0,348.5 L700.2,350.8 L700.3,353.0 L700.5,355.3 L700.6,357.5 L700.7,359.8 L700.7,362.0 L700.8,364.2 L700.8,366.4 L700.9,368.7 L700.9,370.9 L700.9,373.1 L700.8,375.3 L700.8,377.4 L700.7,379.6 L700.7,381.8 L700.6,384.0 L700.5,386.1 L700.3,388.3 L700.2,390.4 L700.0,392.5 L699.9,394.7 L699.7,396.8 L699.5,398.9 L699.2,401.0 L699.0,403.1 L698.7,405.2 L698.4,407.3 L698.1,409.4 L697.8,411.4 L697.4,413.5 L697.0,415.5 L696.6,417.6 L696.2,419.6 L695.7,421.6 L695.3,423.6 L694.7,425.6 L694.2,427.6 L693.7,429.6 L693.1,431.6 L692.5,433.6 L691.8,435.5 L691.2,437.5 L690.6,439.4 L689.9,441.3 L689.3,443.2 L688.6,445.1 L688.0,447.0 L687.3,448.9 L686.7,450.7 L686.0,452.6 L685.4,454.4 L684.7,456.2 L684.0,458.0 L683.3,459.9 L682.6,461.6 L681.9,463.4 L681.1,465.2 L680.4,467.0 L679.6,468.7 L678.7,470.4 L677.9,472.2 L677.0,473.9 L676.2,475.6 L675.3,477.2 L674.4,478.9 L673.5,480.6 L672.6,482.2 L671.7,483.8 L670.8,485.5 L669.8,487.1 L668.9,488.7 L668.0,490.3 L667.0,491.8 L666.1,493.4 L665.2,495.0 L664.3,496.5 L663.3,498.1 L662.4,499.6 L661.5,501.1 L660.6,502.6 L659.7,504.1 L658.8,505.7 L657.9,507.2 L657.0,508.7 L656.1,510.1 L655.2,511.6 L654.3,513.1 L653.4,514.6 L652.5,516.0 L651.6,517.5 L650.7,519.0 L649.8,520.4 L648.9,521.8 L647.9,523.3 L647.0,524.7 L646.1,526.1 L645.1,527.5 L644.2,528.9 L643.3,530.3 L642.4,531.7 L641.5,533.1 L640.6,534.6 L639.8,536.0 L638.9,537.4 L638.0,538.8 L637.1,540.2 L636.2,541.6 L635.3,543.0 L634.3,544.3 L633.3,545.6 L632.3,547.0 L631.3,548.3 L630.2,549.6 L629.2,550.9 L628.1,552.1 L627.1,553.4 L626.0,554.7 L625.0,556.0 L623.9,557.2 L622.9,558.5 L621.9,559.8 L620.9,561.1 L619.8,562.4 L618.8,563.6 L617.7,564.9 L616.7,566.2 L615.6,567.4 L614.5,568.6 L613.4,569.8 L612.3,571.0 L611.1,572.2 L609.9,573.4 L608.8,574.5 L607.5,575.6 L606.3,576.7 L605.1,577.8 L603.8,578.8 L602.5,579.9 L601.2,580.9 L599.9,581.9 L598.6,582.8 L597.2,583.7 L595.8,584.6 L594.4,585.5 L593.0,586.3 L591.5,587.0 L590.0,587.8 L588.5,588.5 L586.9,589.1 L585.4,589.7 L583.8,590.3 L582.2,590.8 L580.6,591.3 L579.0,591.8 L577.3,592.2 L575.7,592.6 L574.1,593.0 L572.4,593.4 L570.8,593.7 L569.1,594.0 L567.5,594.3 L565.8,594.6 L564.2,594.9 L562.6,595.3 L561.1,595.6 L559.5,596.0 L558.1,596.5 L556.6,597.1 L555.2,597.6 L553.9,598.3 L552.5,599.0 L551.2,599.7 L549.9,600.5 L548.6,601.3 L547.3,602.2 L546.1,603.0 L544.8,604.0 L543.6,605.0 L542.3,606.0 L541.1,607.0 L539.9,608.1 L538.7,609.2 L537.5,610.4 L536.3,611.6 L535.1,612.8 L533.9,614.1 L532.7,615.3 L531.5,616.7 L530.2,618.0 L529.0,619.3 L527.8,620.7 L526.5,622.1 L525.3,623.5 L524.0,625.0 L522.7,626.5 L521.4,628.0 L520.1,629.5 L518.7,631.0 L517.4,632.5 L516.0,634.0 L514.6,635.5 L513.2,637.0 L511.7,638.4 L510.3,639.8 L508.7,641.2 L507.2,642.5 L505.6,643.8 L504.1,645.0 L502.4,646.1 L500.8,647.2 L499.1,648.2 L497.5,649.1 L495.7,650.0 L494.0,650.8 L492.3,651.6 L490.5,652.3 L488.8,652.9 L487.0,653.5 L485.2,654.1 L483.4,654.6 L481.6,655.0 L479.7,655.4 L477.9,655.8 L476.1,656.1 L475.5,656.2 L475.5,656.3" stroke="#ad1a39" stroke-width="4.7"/>
</g>
<g class="ang">
<text x="466" y="55.4" textLength="23.2" lengthAdjust="spacingAndGlyphs">0°</text>
<text x="857.5" y="453.4" textLength="36.8" lengthAdjust="spacingAndGlyphs">90°</text>
<text x="452.9" y="852" textLength="50.4" lengthAdjust="spacingAndGlyphs">180°</text>
<text x="53.5" y="453.4" textLength="50.3" lengthAdjust="spacingAndGlyphs">270°</text>
</g>
<g class="db">
<text x="455.8" y="129.9" textLength="47" lengthAdjust="spacing">0 dB</text>
<text x="434.8" y="235.6" textLength="68.4" lengthAdjust="spacing">-10 dB</text>
<text x="434.8" y="339.1" textLength="69.4" lengthAdjust="spacing">-20 dB</text>
<text x="434.4" y="439.3" textLength="72.4" lengthAdjust="spacing">-30 dB</text>
</g>
<g class="lg">
<text x="82.5" y="680.5" fill="#9098cf" textLength="59.5" lengthAdjust="spacingAndGlyphs">250</text>
<text x="82.5" y="717.9" fill="#1f479b" textLength="59.5" lengthAdjust="spacingAndGlyphs">500</text>
<text x="66.5" y="757" fill="#98cdbd" textLength="80.6" lengthAdjust="spacingAndGlyphs">1000</text>
<text x="64" y="797.5" fill="#1fa58c" textLength="78" lengthAdjust="spacingAndGlyphs">2000</text>
<text x="152.6" y="797.5" fill="#000" textLength="44.6" lengthAdjust="spacingAndGlyphs">Hz</text>
<text x="797.5" y="711.6" fill="#cf7075" font-size="29.4" textLength="18.5" lengthAdjust="spacingAndGlyphs">4</text>
<text x="797.8" y="754.1" fill="#b9a9a9" font-size="29.4" textLength="17.8" lengthAdjust="spacingAndGlyphs">8</text>
<text x="784.4" y="798.3" fill="#b01c3a" font-size="29.6" textLength="33.8" lengthAdjust="spacingAndGlyphs">16</text>
<text x="828.4" y="798.3" fill="#3a3a3a" font-size="29.2" textLength="58.2" lengthAdjust="spacingAndGlyphs">kHz</text>
</g>
</svg></body></html>
